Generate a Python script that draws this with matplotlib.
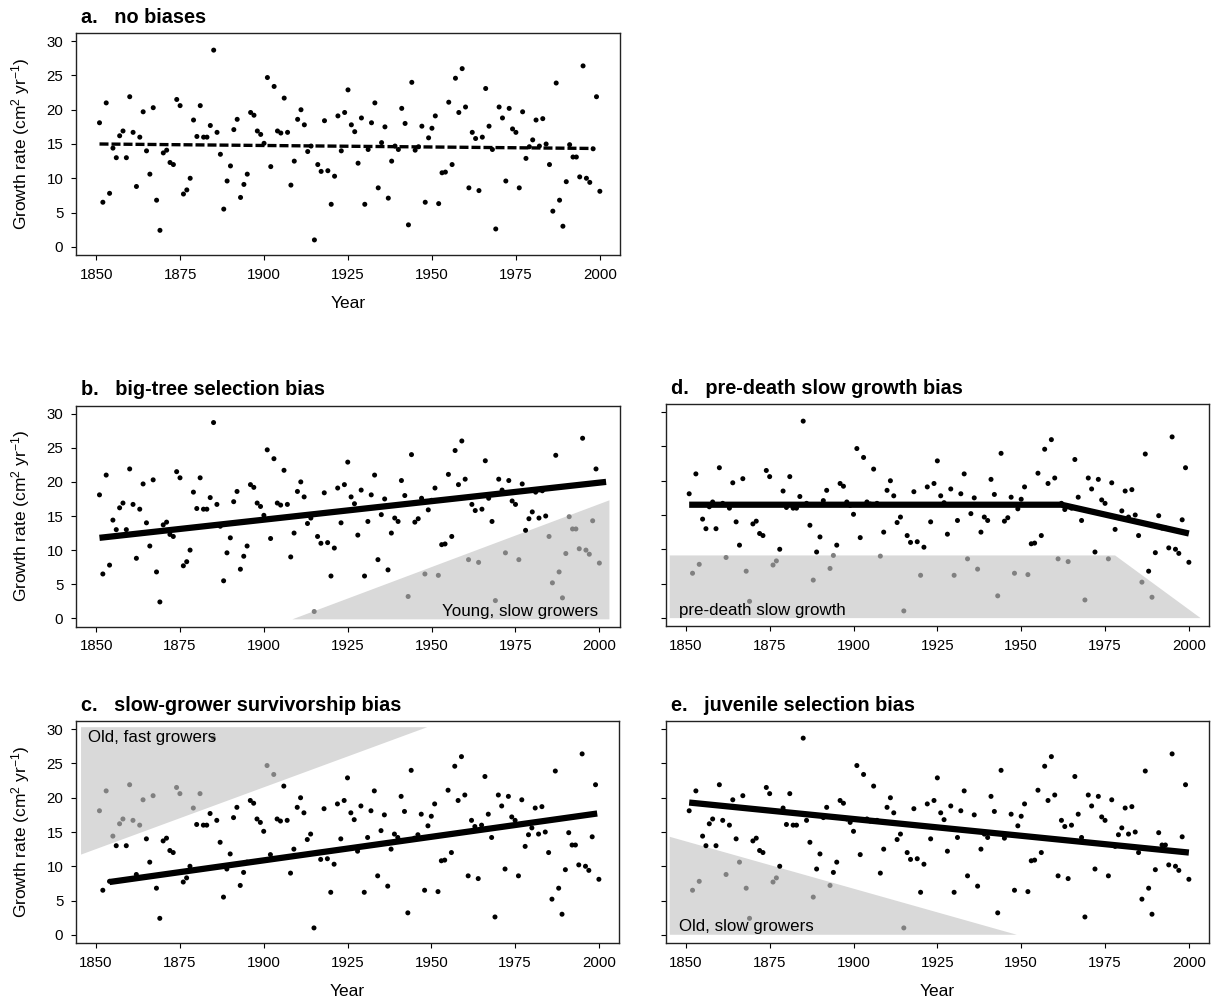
import numpy as np
import matplotlib
matplotlib.use('Agg')
import matplotlib.pyplot as plt
from matplotlib.path import Path

plt.rcParams['font.family'] = ['Liberation Sans', 'DejaVu Sans']
plt.rcParams['mathtext.fontset'] = 'custom'
plt.rcParams['mathtext.rm'] = 'Liberation Sans'
plt.rcParams['mathtext.it'] = 'Liberation Sans:italic'

# one growth value per year, same for every panel
years = np.arange(1851, 2001)
growth = [
    18.1, 6.5, 21.0, 7.8, 14.4, 13.0, 16.2, 16.9, 13.0, 21.9,
    16.7, 8.8, 16.0, 19.7, 14.0, 10.6, 20.3, 6.8, 2.4, 13.7,
    14.1, 12.3, 12.0, 21.5, 20.6, 7.7, 8.3, 10.0, 18.5, 16.1,
    20.6, 16.0, 16.0, 17.7, 28.7, 16.7, 13.5, 5.5, 9.6, 11.8,
    17.1, 18.6, 7.2, 9.1, 10.6, 19.6, 19.2, 16.9, 16.4, 15.1,
    24.7, 11.7, 23.4, 16.9, 16.6, 21.7, 16.7, 9.0, 12.5, 18.6,
    20.0, 17.8, 13.9, 14.7, 1.0, 12.0, 11.0, 18.4, 11.1, 6.2,
    10.3, 19.1, 14.0, 19.6, 22.9, 17.8, 16.8, 12.2, 18.8, 6.2,
    14.2, 18.1, 21.0, 8.6, 15.2, 17.5, 7.1, 12.5, 14.7, 14.2,
    20.2, 18.0, 3.2, 24.0, 14.1, 14.6, 17.6, 6.5, 15.9, 17.3,
    19.1, 6.3, 10.8, 10.9, 21.1, 12.0, 24.6, 19.6, 26.0, 20.4,
    8.6, 16.7, 15.8, 8.2, 16.0, 23.1, 17.6, 14.2, 2.6, 20.4,
    18.8, 9.6, 20.2, 17.2, 16.7, 8.6, 19.7, 12.9, 14.6, 15.6,
    18.5, 14.7, 18.7, 15.0, 12.0, 5.2, 23.9, 6.8, 3.0, 9.5,
    14.9, 13.1, 13.1, 10.2, 26.4, 10.0, 9.4, 14.3, 21.9, 8.1,
]

# trend lines
trend_a_x = [1851, 1998]
trend_a_y = [15.0, 14.35]
trend_b_x = [1851, 2002]
trend_b_y = [11.8, 20.0]
trend_c_x = [1854, 1999.5]
trend_c_y = [7.7, 17.7]
trend_d_x = [1851, 1962, 2000]
trend_d_y = [16.5, 16.5, 12.3]
trend_e_x = [1851, 2000]
trend_e_y = [19.3, 12.0]

# shaded bias regions
poly_b_x = [1908.5, 2003, 2003]
poly_b_y = [-0.15, 17.3, -0.15]
poly_c_x = [1845.5, 1948.8, 1845.5]
poly_c_y = [11.7, 30.3, 30.3]
poly_d_x = [1845.2, 1978, 2003.5, 1845.2]
poly_d_y = [9.1, 9.1, -0.05, -0.05]
poly_e_x = [1845.2, 1948.7, 1845.2]
poly_e_y = [14.3, 0.0, 0.0]

W, H = 1213, 1001
fig = plt.figure(figsize=(W / 100, H / 100), dpi=100)


def make_ax(left, right, top, bottom):
    return fig.add_axes([left / W, 1 - bottom / H, (right - left) / W, (bottom - top) / H])


def style_ax(ax, title, ylabels=True, xlabel=False):
    ax.set_xlim(1844, 2006)
    ax.set_ylim(-1.2, 31.2)
    ax.set_xticks([1850, 1875, 1900, 1925, 1950, 1975, 2000])
    ax.set_yticks([0, 5, 10, 15, 20, 25, 30])
    ax.tick_params(direction='out', length=3.6, width=0.8, pad=5.5, labelsize=10.8, colors='black')
    for s in ax.spines.values():
        s.set_linewidth(1.0)
        s.set_color('#222222')
    if ylabels:
        ax.set_ylabel('Growth rate (cm$^{2}$ yr$^{-1}$)', fontsize=12.5)
        ax.yaxis.set_label_coords(-0.081, 0.5)
    else:
        ax.set_yticklabels([])
    if xlabel:
        ax.set_xlabel('Year', fontsize=12.5)
        ax.xaxis.set_label_coords(0.5, -0.185)
    ax.text(0.009, 1.047, title, transform=ax.transAxes, fontsize=14.3,
            fontweight='bold', ha='left', va='baseline')


def draw_points(ax, px=None, py=None):
    x = np.asarray(years, dtype=float)
    y = np.asarray(growth, dtype=float)
    inside = np.zeros(len(x), dtype=bool)
    if px is not None:
        ax.fill(px, py, color='#d9d9d9', lw=0, zorder=1)
        inside = Path(np.column_stack([px, py])).contains_points(np.column_stack([x, y]))
    colors = np.where(inside, '#808080', 'black')
    ax.scatter(x, y, s=13, c=colors, lw=0, zorder=2)


# a. no biases
ax = make_ax(76, 620, 33, 255)
draw_points(ax)
ax.plot(trend_a_x, trend_a_y, color='black', lw=2.4, dashes=(2.7, 0.9),
        solid_capstyle='butt', dash_capstyle='butt', zorder=3)
style_ax(ax, 'a.   no biases', xlabel=True)

# b. big-tree selection bias
ax = make_ax(76, 619.5, 405.5, 626.5)
draw_points(ax, poly_b_x, poly_b_y)
ax.plot(trend_b_x, trend_b_y, color='black', lw=4.5, solid_capstyle='butt', zorder=3)
ax.text(1999.5, 0.3, 'Young, slow growers', fontsize=12.2, ha='right', va='baseline', zorder=4)
style_ax(ax, 'b.   big-tree selection bias')

# d. pre-death slow growth bias
ax = make_ax(665.7, 1209, 404, 626)
draw_points(ax, poly_d_x, poly_d_y)
ax.plot(trend_d_x, trend_d_y, color='black', lw=4.5, solid_capstyle='butt', zorder=3)
ax.text(1848, 0.4, 'pre-death slow growth', fontsize=12.2, ha='left', va='baseline', zorder=4)
style_ax(ax, 'd.   pre-death slow growth bias', ylabels=False)

# c. slow-grower survivorship bias
ax = make_ax(76, 619, 721, 943)
draw_points(ax, poly_c_x, poly_c_y)
ax.plot(trend_c_x, trend_c_y, color='black', lw=4.5, solid_capstyle='butt', zorder=3)
ax.text(1847.5, 28.1, 'Old, fast growers', fontsize=12.2, ha='left', va='baseline', zorder=4)
style_ax(ax, 'c.   slow-grower survivorship bias', xlabel=True)

# e. juvenile selection bias
ax = make_ax(665.7, 1209, 721, 943)
draw_points(ax, poly_e_x, poly_e_y)
ax.plot(trend_e_x, trend_e_y, color='black', lw=4.5, solid_capstyle='butt', zorder=3)
ax.text(1848, 0.5, 'Old, slow growers', fontsize=12.2, ha='left', va='baseline', zorder=4)
style_ax(ax, 'e.   juvenile selection bias', ylabels=False, xlabel=True)

fig.savefig('out.png', dpi=100)
